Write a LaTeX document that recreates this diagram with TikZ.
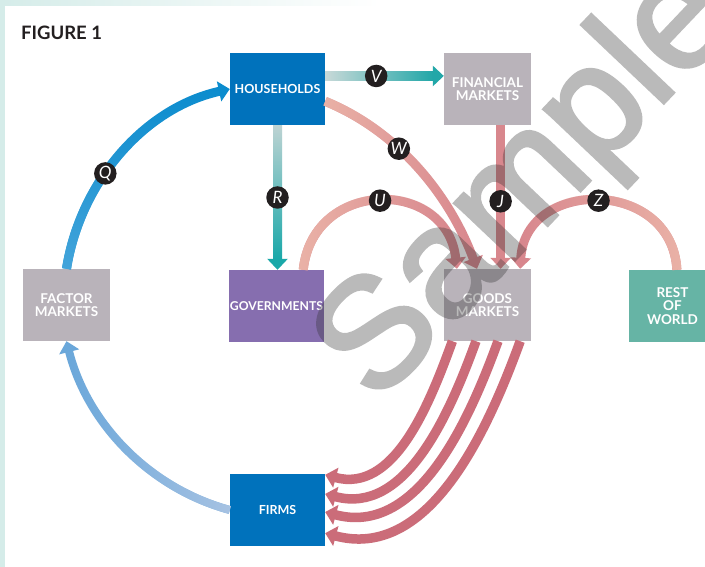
\documentclass[tikz,border=0pt]{standalone}
\usepackage{fontspec}
\setmainfont{Lato}
\newfontfamily\wmfont{Liberation Sans}
\usetikzlibrary{arrows.meta,calc,fadings}
\definecolor{hhblue}{HTML}{0072BC}
\definecolor{mktgray}{HTML}{B9B3BA}
\definecolor{govpurple}{HTML}{866EAF}
\definecolor{rowteal}{HTML}{66B4A5}
\definecolor{qblue}{HTML}{0B8CCE}
\definecolor{qlight}{HTML}{45A5DB}
\definecolor{lbstart}{HTML}{A8C3E3}
\definecolor{lbend}{HTML}{6AA7DA}
\definecolor{vstart}{HTML}{C8D9D8}
\definecolor{vend}{HTML}{22A7A8}
\definecolor{rstart}{HTML}{BDD3D3}
\definecolor{rend}{HTML}{1AA8A9}
\definecolor{salstart}{HTML}{EAB2A7}
\definecolor{salend}{HTML}{D8868D}
\definecolor{jcol}{HTML}{D8878D}
\definecolor{firmarc}{HTML}{CB6C79}
\definecolor{labbg}{HTML}{231F20}
\definecolor{stripteal}{HTML}{D5ECE9}
\tikzfading[name=fadeLR, left color=transparent!0, right color=transparent!100]
\tikzfading[name=fadeRL, left color=transparent!100, right color=transparent!0]
\tikzfading[name=fadeBT, top color=transparent!100, bottom color=transparent!0]
\begin{document}
\begin{tikzpicture}[x=1pt,y=-1pt,
  box/.style={rectangle, inner sep=0pt, text=white, align=center,
    font=\bfseries\fontsize{12.5}{13.5}\selectfont, minimum height=72pt},
  wbox/.style={box, minimum width=95pt},
  nbox/.style={box, minimum width=87pt, font=\bfseries\fontsize{13.5}{13.5}\selectfont},
  lab/.style={circle, fill=labbg, minimum size=22.5pt, inner sep=0pt, text=white,
    font=\itshape\fontsize{17}{17}\selectfont},
  flow/.style={line width=9pt},
  tipA/.style={-{Triangle[width=20pt,length=11pt]}},
  wmark/.style={anchor=base west, inner sep=0pt, rotate=46.5, text=black!81,
    font=\wmfont\fontsize{156}{156}\selectfont}]
\useasboundingbox (0,0) rectangle (705,567);
\clip (0,0) rectangle (705,567);
% background
\fill[white] (0,0) rectangle (705,567);
\fill[stripteal] (0,0) rectangle (5,567);
\shade[left color=stripteal, right color=white] (0,0) rectangle (380,6);
% title
\node[anchor=base west, inner sep=0pt, text=labbg,
  font=\bfseries\fontsize{18.5}{18.5}\selectfont] (title) at (21,40) {FIGURE 1};
% boxes
\node[wbox, fill=hhblue] (hh) at (277.5,89) {HOUSEHOLDS};
\node[nbox, fill=mktgray] (fin) at (487.5,89) {FINANCIAL\\MARKETS};
\node[nbox, fill=mktgray] (fac) at (66.5,305) {FACTOR\\MARKETS};
\node[wbox, fill=govpurple, font=\bfseries\fontsize{12.2}{13.5}\selectfont] (gov) at (276.5,306) {GOVERNMENTS};
\node[nbox, fill=mktgray] (goods) at (487.5,305) {GOODS\\MARKETS};
\node[nbox, fill=rowteal] (row) at (672.5,306) {REST\\OF\\WORLD};
\node[wbox, fill=hhblue] (firms) at (277.5,510) {FIRMS};
% anchor points
\coordinate (vS) at ($(hh.north east)!0.32!(hh.south east)$);
\coordinate (vE) at ($(fin.north west)!0.32!(fin.south west)$);
\coordinate (rS) at (hh.south);
\coordinate (rE) at (hh.south |- gov.north);
\coordinate (wS) at ($(hh.north east)!0.67!(hh.south east)$);
\coordinate (wE) at ($(goods.north west)!0.38!(goods.north east)$);
\coordinate (jS) at ($(fin.south west)!0.65!(fin.south east)$);
\coordinate (jE) at (jS |- goods.north);
\coordinate (uS) at ($(gov.north west)!0.78!(gov.north east)$);
\coordinate (uE) at ($(goods.north west)!0.15!(goods.north east)$);
\coordinate (zS) at ($(row.north west)!0.55!(row.north east)$);
\coordinate (zE) at ($(goods.north west)!0.874!(goods.north east)$);
\def\pQ{(fac.north) .. controls +(13.8,-86.9) and +(-85.5,18.9) .. (hh.west)}
\def\pL{(firms.west) .. controls +(-81,-22) and +(20.5,81.5) .. (fac.south)}
\def\pW{(wS) .. controls +(72.9,29.9) and +(-27.6,-74) .. (wE)}
\def\pU{(uS) .. controls +(10,-92) and +(-10,-91) .. (uE)}
\def\pZ{(zS) .. controls +(-5,-92) and +(5,-91) .. (zE)}
% goods -> firms
\foreach \a/\b/\cx/\cy/\dx/\dy in {0.098/0.014/-24.1/66.4/68.2/18.3,
    0.368/0.278/-28/77.1/79.2/21.2, 0.62/0.528/-31.8/87.4/89.8/24.1,
    0.874/0.82/-35.8/98.4/101.1/27.1}{
  \draw[line width=9.5pt, firmarc, tipA]
    ($(goods.south west)!\a!(goods.south east)$) .. controls +(\cx,\cy) and +(\dx,\dy) ..
    ($(firms.north east)!\b!(firms.south east)$);
}
% Q
\draw[flow, qblue, tipA] \pQ;
\draw[flow, qlight, path fading=fadeBT, shorten >=11pt] \pQ;
% firms -> factor
\draw[line width=8pt, lbend, tipA] \pL;
\draw[line width=8pt, lbstart, path fading=fadeRL, shorten >=11pt] \pL;
% V
\draw[flow, vend, tipA] (vS) -- (vE);
\shade[left color=vstart, right color=vend] ($(vS)+(0,-4.5)$) rectangle ($(vE)+(-11,4.5)$);
% R
\draw[flow, rend, tipA] (rS) -- (rE);
\shade[top color=rstart, bottom color=rend] ($(rS)+(-4.5,0)$) rectangle ($(rE)+(4.5,-11)$);
% W
\draw[flow, salend, tipA] \pW;
\draw[flow, salstart, path fading=fadeLR, shorten >=11pt] \pW;
% U
\draw[flow, salend, tipA] \pU;
\draw[flow, salstart, path fading=fadeLR, shorten >=11pt] \pU;
% Z
\draw[flow, salend, tipA] \pZ;
\draw[flow, salstart, path fading=fadeRL, shorten >=11pt] \pZ;
% J
\draw[flow, jcol, tipA] (jS) -- (jE);
% labels
\path \pQ node[lab, pos=0.4] (lQ) {Q};
\path (vS) -- (vE) node[lab, pos=0.43] (lV) {V};
\path (rS) -- (rE) node[lab, pos=0.5] (lR) {R};
\path \pW node[lab, pos=0.38] (lW) {W};
\path (jS) -- (jE) node[lab, pos=0.53] (lJ) {J};
\path \pU node[lab, pos=0.5] (lU) {U};
\path \pZ node[lab, pos=0.5] (lZ) {Z};
% watermark: one text, filled and stroked, inside a transparency group
\begin{scope}[transparency group, opacity=0.33]
\node[wmark] (wm) at (376,406)
  {\special{pdf:literal direct 2 Tr 3.5 w}Sample\special{pdf:literal direct 0 Tr}};
\end{scope}
\end{tikzpicture}
\end{document}
